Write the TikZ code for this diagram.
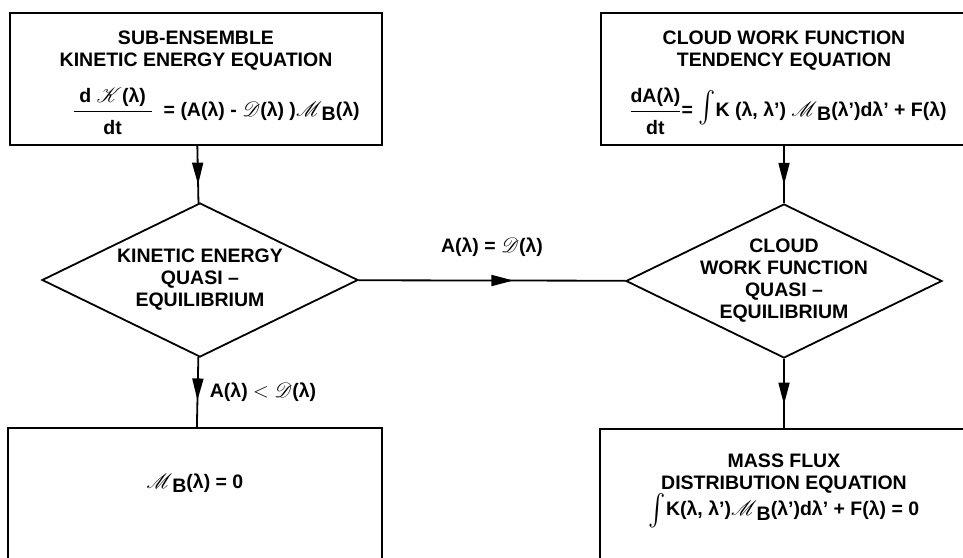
\documentclass[tikz,border=0pt]{standalone}
\usepackage{amsmath}
\usepackage{mathrsfs}
\usepackage{fontspec}
\setmainfont{Liberation Sans}
\usetikzlibrary{positioning,arrows.meta,shapes.geometric,decorations.markings}
\newcommand{\eqfont}{\fontsize{19.5}{22}\selectfont\bfseries}
\newcommand{\scrD}{$\mathscr{D}$}
\newcommand{\scrK}{$\mathscr{K}$}
\newcommand{\scrMB}{$\mathscr{M}$\raisebox{-.4ex}{B}}
\newcommand{\bigint}{\raisebox{-.3ex}{\scalebox{1.25}[1.5]{$\int$}}}

\begin{document}
\begin{tikzpicture}[x=1pt,y=-1pt,every node/.style={font=\eqfont},
  box/.style={draw,line width=1.8pt,minimum height=132pt,align=center,inner sep=0pt},
  choice/.style={draw,diamond,line width=1.8pt,minimum width=316pt,minimum height=154pt,inner sep=0pt},
  flow/.style={line width=1.8pt,postaction={decorate},decoration={markings,mark=at position #1 with {\arrow{Triangle[length=22pt,width=11pt]}}}},
  flow/.default=0.6]
  \path[use as bounding box] (0,0) rectangle (963,557);
  \clip (0,0) rectangle (963,557);
  \node[box,minimum width=372pt,label={[align=center,yshift=-4pt]center:{SUB-ENSEMBLE\\KINETIC ENERGY EQUATION\\[16pt]
    \hspace*{40pt}$\dfrac{\;\text{d }\mathscr{K}\text{(λ)}\;}{\rule{0pt}{2ex}\text{dt}}$\ \ = (A(λ) - \scrD(λ) )\scrMB(λ)}}] (keeq) at (196,79) {};
  \node[box,minimum width=366pt,label={[align=center,yshift=-4pt]center:{CLOUD WORK FUNCTION\\TENDENCY EQUATION\\[16pt]
    \hspace*{8pt}$\dfrac{\text{dA(λ)}}{\rule{0pt}{2ex}\text{dt}}$= \raisebox{.4ex}{\bigint}K (λ, λ') \scrMB(λ')dλ' + F(λ)}}] (cwteq) at (784,79) {};
  \node[choice,label={[align=center]center:KINETIC ENERGY\\QUASI --\\EQUILIBRIUM}] (keqe) at (200,280) {};
  \node[choice,label={[align=center]center:CLOUD\\WORK FUNCTION\\QUASI --\\EQUILIBRIUM}] (cwqe) at (784,281) {};
  \node[box,minimum width=374pt,minimum height=175pt,anchor=north,
    label={[anchor=north,yshift=-43pt]north:{\scrMB(λ) = 0}}] (nomass) at (195,427) {};
  \node[box,minimum width=368pt,minimum height=175pt,anchor=north,
    label={[anchor=north,yshift=-22pt,align=center]north:{MASS FLUX\\DISTRIBUTION EQUATION\\\bigint K(λ, λ')\scrMB(λ')dλ' + F(λ) = 0}}] (mfeq) at (784,428) {};
  \draw[flow=0.68] (keeq) -- (keqe);
  \draw[flow=0.68] (cwteq) -- (cwqe);
  \draw[flow=0.58] (keqe) -- node[above=20pt] (eqlab) {A(λ) =\ \scrD(λ)} (cwqe);
  \draw[flow=0.62] (keqe) -- node[right=8pt] (ltlab) {A(λ) $<$ \scrD(λ)} (nomass);
  \draw[flow=0.66] (cwqe) -- (mfeq);
\end{tikzpicture}
\end{document}
